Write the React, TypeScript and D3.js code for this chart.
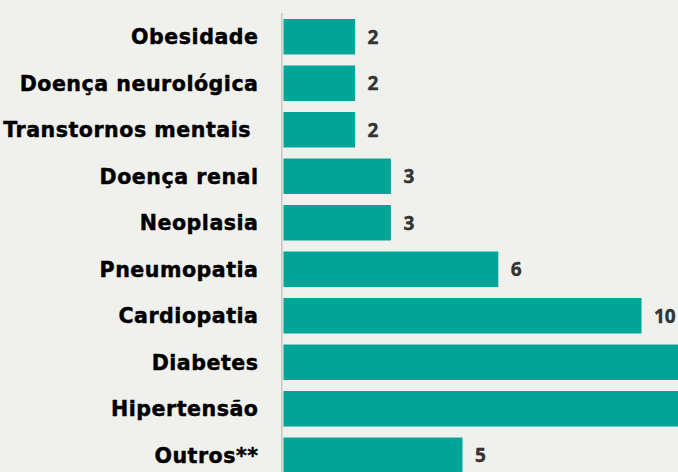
import React, { useEffect, useRef } from 'react';
import * as d3 from 'd3';

const categories = [
  'Obesidade',
  'Doença neurológica',
  'Transtornos mentais',
  'Doença renal',
  'Neoplasia',
  'Pneumopatia',
  'Cardiopatia',
  'Diabetes',
  'Hipertensão',
  'Outros**',
];
// Diabetes and Hipertensão run past the right edge in the picture, so their values are estimates
const values = [2, 2, 2, 3, 3, 6, 10, 14, 16, 5];

const W = 678;
const H = 472;

function initChart(el: SVGSVGElement) {
  const svg = d3.select(el).attr('width', W).attr('height', H);
  svg.selectAll('*').remove();

  const data = categories.map((c, i) => ({ cat: c, val: values[i] }));

  const x = d3.scaleLinear().domain([0, 10]).range([283.5, 641.5]);
  const y = d3.scaleBand()
    .domain(categories)
    .range([13.5, 478.5])
    .paddingInner(0.237)
    .paddingOuter(0.118);

  // background
  svg.append('rect')
    .attr('width', W)
    .attr('height', H)
    .attr('fill', '#f0f0ed');

  // bars
  svg.selectAll('rect.bar')
    .data(data)
    .enter().append('rect')
    .attr('class', 'bar')
    .attr('x', x(0))
    .attr('y', d => y(d.cat)!)
    .attr('width', d => x(d.val) - x(0))
    .attr('height', y.bandwidth())
    .attr('fill', '#00a598');

  // axis line
  svg.append('line')
    .attr('x1', 281.8).attr('x2', 281.8)
    .attr('y1', 13).attr('y2', H)
    .attr('stroke', '#c8c8c6')
    .attr('stroke-width', 1.6);

  // category labels
  svg.selectAll('text.cat')
    .data(data)
    .enter().append('text')
    .attr('class', 'cat')
    .attr('x', d => (d.cat === 'Transtornos mentais' ? 251 : 258.5))
    .attr('y', d => y(d.cat)! + y.bandwidth() / 2)
    .attr('dy', '0.36em')
    .attr('text-anchor', 'end')
    .style('font-family', '"DejaVu Sans", sans-serif')
    .style('font-weight', 700)
    .style('font-size', '20.6px')
    .style('letter-spacing', '0.5px')
    .attr('fill', '#000')
    .attr('stroke', '#000')
    .attr('stroke-width', 0.45)
    .text(d => d.cat);

  // value labels (bars that run off the edge have theirs outside the view)
  svg.selectAll('text.val')
    .data(data.filter(d => x(d.val) + 12.5 < W))
    .enter().append('text')
    .attr('class', 'val')
    .attr('x', d => x(d.val) + 12.5)
    .attr('y', d => y(d.cat)! + y.bandwidth() / 2)
    .attr('dy', '0.36em')
    .style('font-family', '"Open Sans", sans-serif')
    .style('font-weight', 700)
    .style('font-size', '19px')
    .attr('fill', '#333')
    .attr('stroke', '#333')
    .attr('stroke-width', 0.4)
    .text(d => d.val);

  return svg.node();
}

const App = () => {
  const ref = useRef<SVGSVGElement>(null);
  useEffect(() => {
    if (ref.current) initChart(ref.current);
  }, []);

  return (
    <div style={{ position: 'fixed', left: 0, top: 0 }}>
      <svg ref={ref} style={{ display: 'block' }}></svg>
    </div>
  );
};

export default App;
